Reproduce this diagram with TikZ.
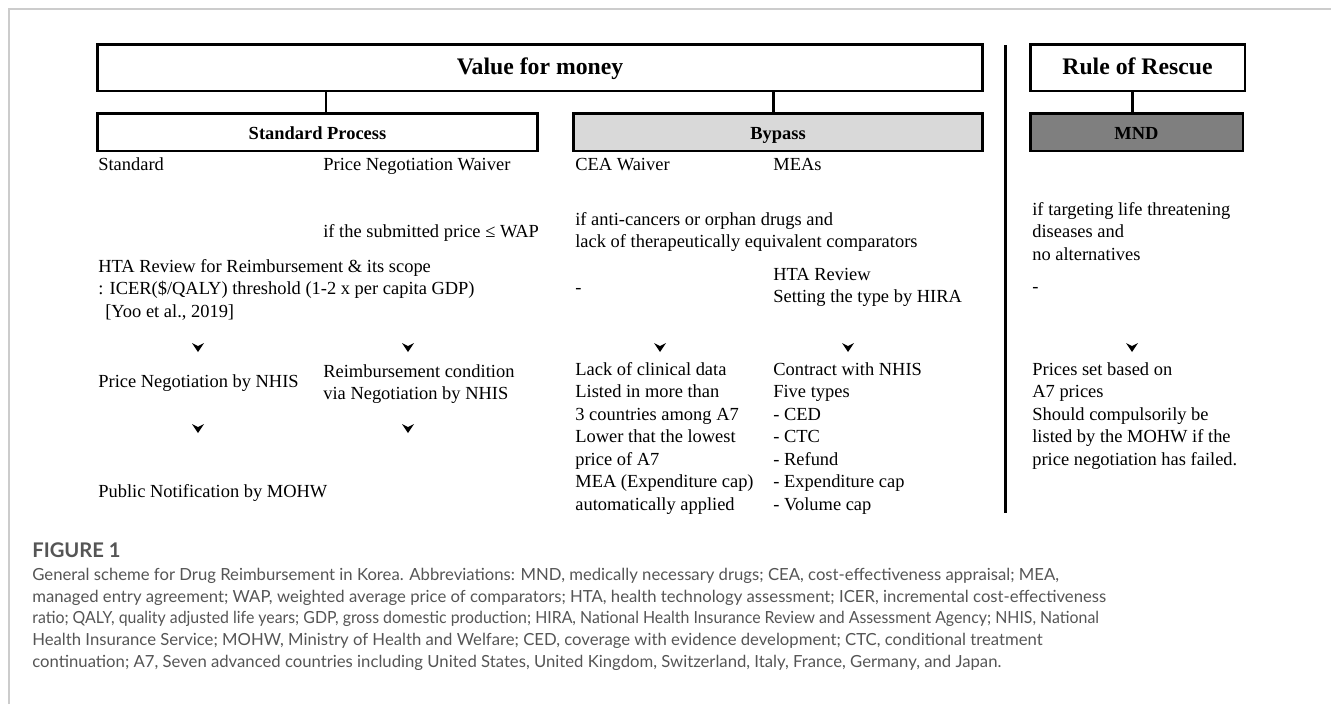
\documentclass[tikz,border=0pt]{standalone}
\usepackage{graphicx}
\usepackage{fontspec}
\setmainfont{Liberation Serif}
\newfontfamily\capfont{Lato}
\definecolor{bypassgray}{HTML}{D9D9D9}
\definecolor{mndgray}{HTML}{7F7F7F}
\definecolor{capgray}{HTML}{555555}
\definecolor{framegray}{HTML}{CCCCCC}
\begin{document}
\begin{tikzpicture}[x=0.02cm,y=-0.02cm,
  box/.style={draw, line width=1.7pt, inner sep=0pt, minimum height=0.76cm, text height=1em, text depth=0.2em},
  bigbox/.style={box, minimum height=0.94cm, font=\fontsize{13.5}{16}\selectfont\bfseries},
  subbox/.style={box, font=\fontsize{10.5}{12.8}\selectfont\bfseries},
  stub/.style={line width=1.7pt},
  txt/.style={anchor=base west, align=left, inner sep=0pt, font=\fontsize{10.5}{12.8}\selectfont},
  captxt/.style={anchor=base west, align=left, inner sep=0pt, text=capgray, font=\capfont\fontsize{9.5}{12.4}\selectfont},
  chev/.pic={\fill (-6,-4) -- (0,-1) -- (6,-4) -- (0,5) -- cycle;}
]
\useasboundingbox (0,0) rectangle (1331,704);
% outer frame
\draw[framegray, line width=0.8pt] (9,704) -- (9,9) -- (1331,9);

% boxes
\node[bigbox, minimum width=17.72cm] (vfm) at (540,67.5) {Value for money};
\node[subbox, minimum width=8.82cm] (sp) at (317.5,132) {Standard Process};
\node[subbox, fill=bypassgray, minimum width=8.2cm] (byp) at (778,132) {Bypass};
\node[bigbox, minimum width=4.3cm] (ror) at (1137.5,67.5) {Rule of Rescue};
\node[subbox, fill=mndgray, minimum width=4.26cm] (mnd) at (1136.5,132) {MND};

% stubs
\draw[stub] ([xshift=0.17cm]sp.north) -- ([xshift=0.17cm]sp.north |- vfm.south);
\draw[stub] ([xshift=-0.1cm]byp.north) -- ([xshift=-0.1cm]byp.north |- vfm.south);
\draw[stub] ([xshift=-0.09cm]mnd.north) -- ([xshift=-0.09cm]mnd.north |- ror.south);

% divider
\coordinate (dtop) at (1005,45);
\coordinate (dbot) at (1005,513);
\draw[stub] (dtop) -- (dbot);

% column headings
\node[txt] (t1) at (98,170) {Standard};
\node[txt] (t2) at (323,170) {Price Negotiation Waiver};
\node[txt] (t3) at (575,170) {CEA Waiver};
\node[txt] (t4) at (773,170) {MEAs};

% conditions (anchor = baseline of last line)
\node[txt] (c2) at (323,237) {if the submitted price ≤ WAP};
\node[txt] (c3) at (575,247.5) {if anti-cancers or orphan drugs and\\lack of therapeutically equivalent comparators};
\node[txt] (c5) at (1032,260) {if targeting life threatening\\diseases and\\no alternatives};

% reviews
\node[txt] (r1) at (98,317) {HTA Review for Reimbursement \& its scope\\: ICER(\$/QALY) threshold (1-2 x per capita GDP)\\\hspace*{0.14cm}[Yoo et al., 2019]};
\node[txt] (r3) at (575,293) {-};
\node[txt] (r4) at (773,302.5) {HTA Review\\Setting the type by HIRA};
\node[txt] (r5) at (1032,292) {-};

% arrowheads
\pic at (198,347) {chev};
\pic at (408,347) {chev};
\pic at (660,347) {chev};
\pic at (848,347) {chev};
\pic at (1132,347) {chev};
\pic at (198,428) {chev};
\pic at (408,428) {chev};

% outcomes
\node[txt] (o1) at (98,387) {Price Negotiation by NHIS};
\node[txt] (o2) at (323,399.5) {Reimbursement condition\\via Negotiation by NHIS};
\node[txt] (o3) at (575,510) {Lack of clinical data\\Listed in more than\\3 countries among A7\\Lower that the lowest\\price of A7\\MEA (Expenditure cap)\\automatically applied};
\node[txt] (o4) at (773,510) {Contract with NHIS\\Five types\\- CED\\- CTC\\- Refund\\- Expenditure cap\\- Volume cap};
\node[txt] (o5) at (1032,465) {Prices set based on\\A7 prices\\Should compulsorily be\\listed by the MOHW if the\\price negotiation has failed.};
\node[txt] (p1) at (98,497) {Public Notification by MOHW};

% caption
\node[anchor=base west, inner sep=0pt, text=capgray, font=\capfont\fontsize{11.5}{13}\selectfont\bfseries] (fig) at (32,557) {FIGURE 1};
\node[captxt] (cap) at (32,667.5) {General scheme for Drug Reimbursement in Korea. Abbreviations: MND, medically necessary drugs; CEA, cost-effectiveness appraisal; MEA,\\managed entry agreement; WAP, weighted average price of comparators; HTA, health technology assessment; ICER, incremental cost-effectiveness\\\scalebox{0.95}[1]{ratio; QALY, quality adjusted life years; GDP, gross domestic production; HIRA, National Health Insurance Review and Assessment Agency; NHIS, National}\\Health Insurance Service; MOHW, Ministry of Health and Welfare; CED, coverage with evidence development; CTC, conditional treatment\\continuation; A7, Seven advanced countries including United States, United Kingdom, Switzerland, Italy, France, Germany, and Japan.};
\end{tikzpicture}
\end{document}
